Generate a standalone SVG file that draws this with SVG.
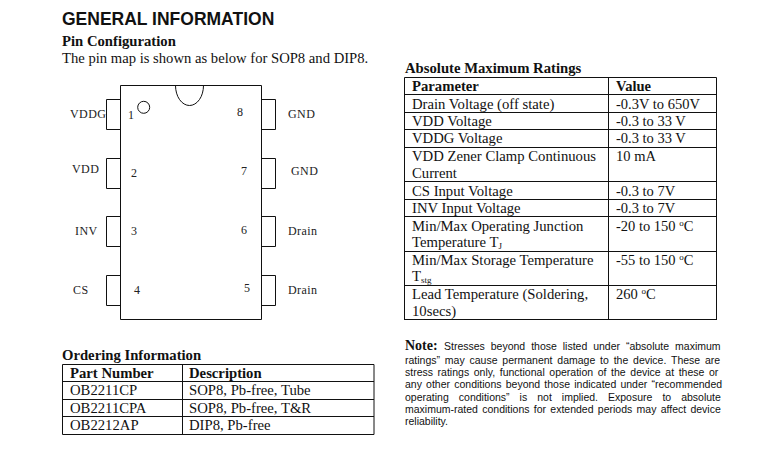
<svg xmlns="http://www.w3.org/2000/svg" width="784" height="451" viewBox="0 0 784 451">
<style>
text{fill:#111;font-family:"Liberation Serif","Times New Roman",serif;font-size:14.7px}
.h{font-family:"Liberation Sans",Arial,sans-serif;font-weight:bold;font-size:17.5px}
.b{font-weight:bold}
.v{font-size:14.5px}
.p{font-size:12px;fill:#222;letter-spacing:.4px}
.n{font-family:"Liberation Sans",Arial,sans-serif;font-size:10.5px}
.s{font-size:9px}
.o{fill:none;stroke:#111;stroke-width:1}
.g{fill:none;stroke:#111;stroke-width:1}
</style>
<rect width="784" height="451" fill="#fff"/>
<text class="h" x="62" y="25">GENERAL INFORMATION</text>
<text class="b" x="62" y="46">Pin Configuration</text>
<text x="62" y="63" style="font-size:14.65px">The pin map is shown as below for SOP8 and DIP8.</text>
<g id="chip">
<path class="o" d="M120.5 85.5H261.5V319.5H120.5Z"/>
<path class="o" d="M175.5 85.5A14 20 0 0 0 203.5 85.5"/>
<circle class="o" cx="143.7" cy="107.3" r="6"/>
</g>
<g id="pin1"><path class="o" d="M120.5 99.5H106.5V129.5H120.5"/><text class="p" x="70" y="118">VDDG</text><text class="p" x="128" y="119">1</text></g>
<g id="pin2"><path class="o" d="M120.5 158.5H106.5V188.5H120.5"/><text class="p" x="72" y="173">VDD</text><text class="p" x="131" y="177">2</text></g>
<g id="pin3"><path class="o" d="M120.5 216.5H106.5V246.5H120.5"/><text class="p" x="75" y="235">INV</text><text class="p" x="131" y="235">3</text></g>
<g id="pin4"><path class="o" d="M120.5 275.5H106.5V305.5H120.5"/><text class="p" x="73" y="294">CS</text><text class="p" x="134" y="294">4</text></g>
<g id="pin5"><path class="o" d="M261.5 275.5H275.5V305.5H261.5"/><text class="p" x="288" y="294">Drain</text><text class="p" x="244" y="292">5</text></g>
<g id="pin6"><path class="o" d="M261.5 216.5H275.5V246.5H261.5"/><text class="p" x="288" y="235">Drain</text><text class="p" x="241" y="234">6</text></g>
<g id="pin7"><path class="o" d="M261.5 158.5H275.5V188.5H261.5"/><text class="p" x="291" y="175">GND</text><text class="p" x="241" y="175">7</text></g>
<g id="pin8"><path class="o" d="M261.5 99.5H275.5V129.5H261.5"/><text class="p" x="288" y="118">GND</text><text class="p" x="237" y="116">8</text></g>

<g id="ordering">
<text class="b" x="62" y="360">Ordering Information</text>
<path class="g" d="M62.5 364.5H374V434.5H62.5ZM182.5 364.5V434.5M62.5 381.5H374M62.5 399.5H374M62.5 416.5H374"/>
<text class="b" x="70" y="378">Part Number</text><text class="b" x="189" y="378">Description</text>
<text x="70" y="395">OB2211CP</text><text x="189" y="395">SOP8, Pb-free, Tube</text>
<text x="70" y="412.7">OB2211CPA</text><text x="189" y="412.7">SOP8, Pb-free, T&amp;R</text>
<text x="70" y="430">OB2212AP</text><text x="189" y="430">DIP8, Pb-free</text>
</g>

<g id="ratings">
<text class="b" x="405" y="73">Absolute Maximum Ratings</text>
<path class="g" d="M404.5 77.5H716.5V320M404.5 77.5V320M608.5 77.5V320M404.5 94.5H716.5M404.5 112.5H716.5M404.5 129.5H716.5M404.5 147.5H716.5M404.5 181.5H716.5M404.5 199.5H716.5M404.5 216.5H716.5M404.5 251.5H716.5M404.5 285.5H716.5M404.5 319.5H716.5"/>
<text class="b" x="412" y="91">Parameter</text><text class="b v" x="616" y="91">Value</text>
<text x="412" y="109">Drain Voltage (off state)</text><text class="v" x="616" y="109">-0.3V to 650V</text>
<text x="412" y="125.7">VDD Voltage</text><text class="v" x="616" y="125.7">-0.3 to 33 V</text>
<text x="412" y="143.3">VDDG Voltage</text><text class="v" x="616" y="143.3">-0.3 to 33 V</text>
<text x="412" y="160.7">VDD Zener Clamp Continuous</text><text class="v" x="616" y="160.7">10 mA</text>
<text x="412" y="177.7">Current</text>
<text x="412" y="195.7">CS Input Voltage</text><text class="v" x="616" y="195.7">-0.3 to 7V</text>
<text x="412" y="212.7">INV Input Voltage</text><text class="v" x="616" y="212.7">-0.3 to 7V</text>
<text x="412" y="230.7">Min/Max Operating Junction</text><text class="v" x="616" y="230.7">-20 to 150 <tspan class="s" dy="-5">o</tspan><tspan dy="5">C</tspan></text>
<text x="412" y="246.7">Temperature T<tspan class="s" dy="2">J</tspan></text>
<text x="412" y="264.7">Min/Max Storage Temperature</text><text class="v" x="616" y="264.7">-55 to 150 <tspan class="s" dy="-5">o</tspan><tspan dy="5">C</tspan></text>
<text x="412" y="281.3">T<tspan class="s" dy="2">stg</tspan></text>
<text x="412" y="299">Lead Temperature (Soldering,</text><text class="v" x="616" y="299">260 <tspan class="s" dy="-5">o</tspan><tspan dy="5">C</tspan></text>
<text x="412" y="316">10secs)</text>
</g>

<g id="note">
<text class="b" x="405" y="350" style="font-size:14px">Note:</text>
<text class="n" x="444" y="350" word-spacing="3">Stresses beyond those listed under “absolute maximum</text>
<text class="n" x="405" y="364" word-spacing="1.9">ratings” may cause permanent damage to the device. These are</text>
<text class="n" x="405" y="375.7" word-spacing="1.7">stress ratings only, functional operation of the device at these or</text>
<text class="n" x="405" y="387.7" word-spacing="1.27">any other conditions beyond those indicated under “recommended</text>
<text class="n" x="405" y="400.7" word-spacing="7.1">operating conditions” is not implied. Exposure to absolute</text>
<text class="n" x="405" y="412.7" word-spacing="1.37">maximum-rated conditions for extended periods may affect device</text>
<text class="n" x="405" y="424.7">reliability.</text>
</g>
</svg>
